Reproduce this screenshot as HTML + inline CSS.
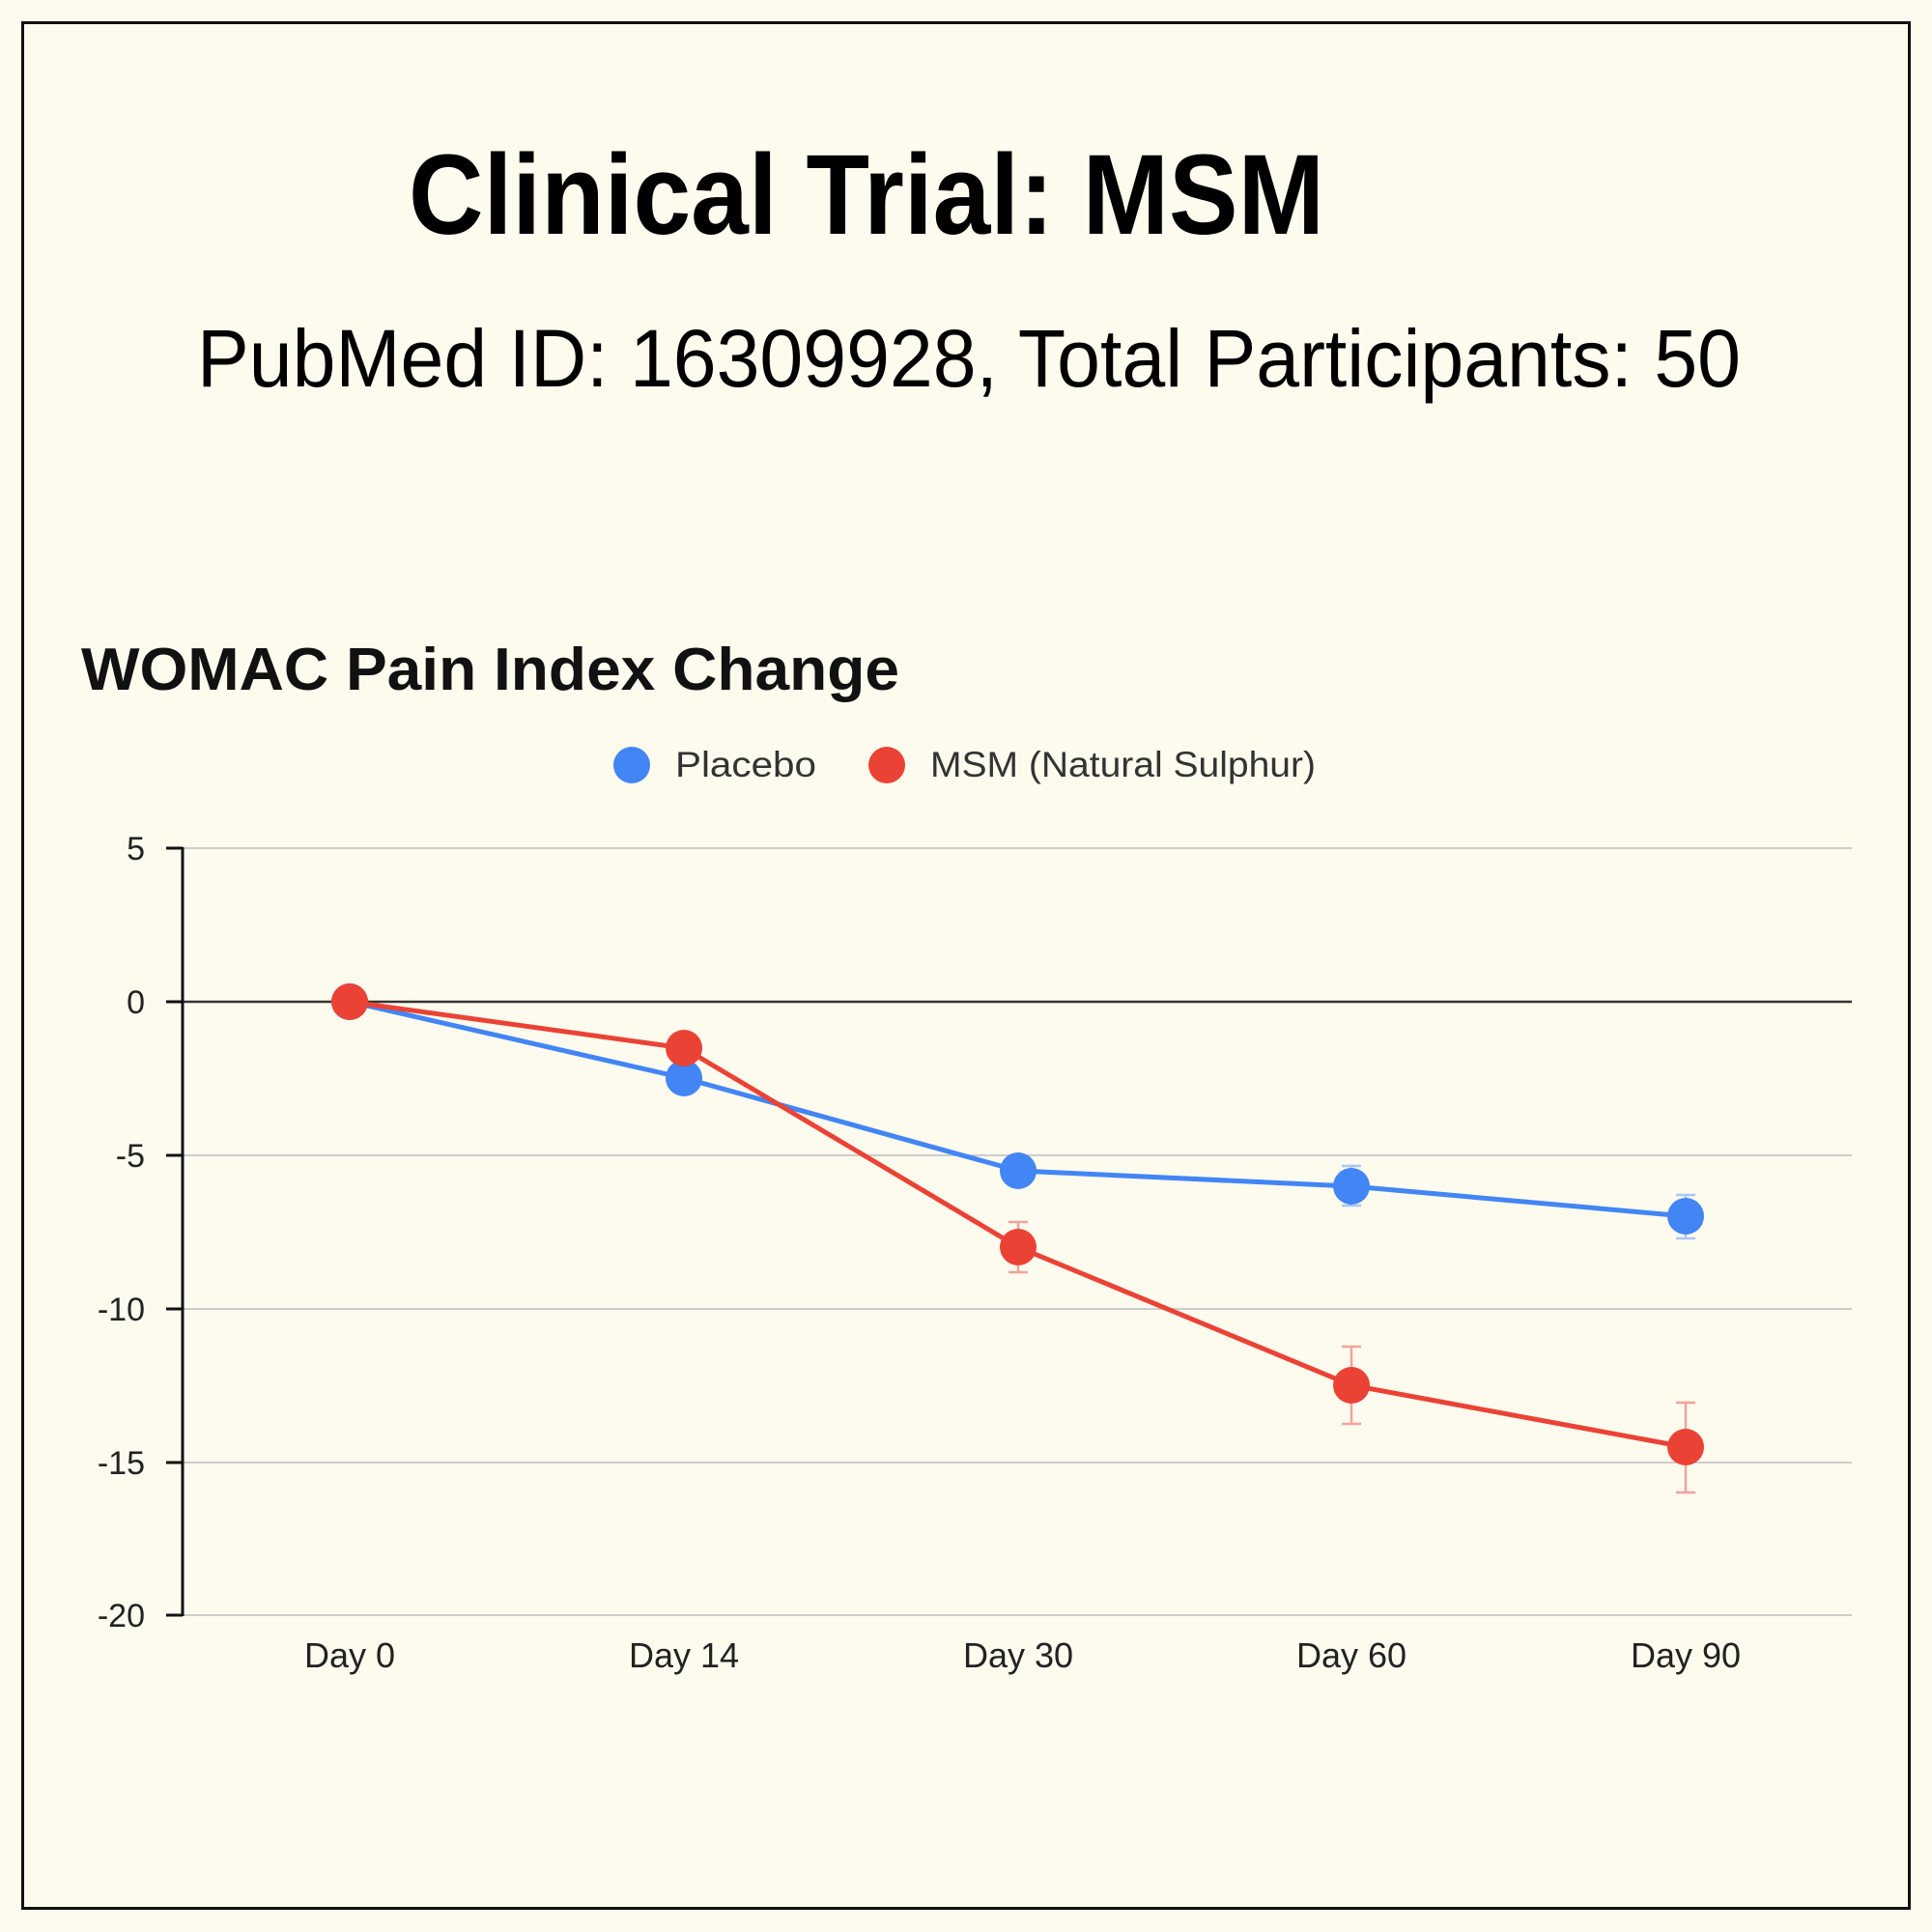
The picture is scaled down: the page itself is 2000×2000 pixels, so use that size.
<!DOCTYPE html>
<html><head><meta charset="utf-8"><style>html,body{margin:0;padding:0;background:#fdfaee}svg{display:block}</style></head>
<body>
<svg width="2000" height="2000" viewBox="0 0 2000 2000" xmlns="http://www.w3.org/2000/svg" font-family="Liberation Sans, sans-serif">
<rect x="0" y="0" width="2000" height="2000" fill="#fdfaee"/>
<rect x="23.5" y="23.5" width="1953" height="1952" fill="none" stroke="#111" stroke-width="3"/>
<text x="423" y="242" font-size="118" font-weight="bold" textLength="948" lengthAdjust="spacingAndGlyphs" fill="#000">Clinical Trial: MSM</text>
<text x="204" y="400" font-size="84" textLength="1598" lengthAdjust="spacingAndGlyphs" fill="#000">PubMed ID: 16309928, Total Participants: 50</text>
<text x="84" y="714" font-size="62" font-weight="bold" textLength="847" lengthAdjust="spacingAndGlyphs" fill="#111">WOMAC Pain Index Change</text>
<circle cx="654" cy="792" r="19" fill="#4285f4"/>
<text x="699" y="804" font-size="37" fill="#333" textLength="146" lengthAdjust="spacingAndGlyphs">Placebo</text>
<circle cx="918" cy="792" r="19" fill="#ea4335"/>
<text x="963" y="804" font-size="37" fill="#333" textLength="399" lengthAdjust="spacingAndGlyphs">MSM (Natural Sulphur)</text>
<g stroke="#ccc" stroke-width="2">
<line x1="189" y1="878" x2="1917" y2="878"/>
<line x1="189" y1="1196" x2="1917" y2="1196"/>
<line x1="189" y1="1355" x2="1917" y2="1355"/>
<line x1="189" y1="1514" x2="1917" y2="1514"/>
<line x1="189" y1="1672" x2="1917" y2="1672"/>
</g>
<line x1="189" y1="1037" x2="1917" y2="1037" stroke="#333" stroke-width="2.5"/>
<line x1="189" y1="877" x2="189" y2="1673" stroke="#111" stroke-width="3"/>
<g stroke="#111" stroke-width="3">
<line x1="172" y1="878" x2="189" y2="878"/><line x1="172" y1="1037" x2="189" y2="1037"/><line x1="172" y1="1196" x2="189" y2="1196"/><line x1="172" y1="1355" x2="189" y2="1355"/><line x1="172" y1="1514" x2="189" y2="1514"/><line x1="172" y1="1672" x2="189" y2="1672"/>
</g>
<g font-size="34" fill="#222" text-anchor="end">
<text x="150" y="890">5</text><text x="150" y="1049">0</text><text x="150" y="1208">-5</text><text x="150" y="1367">-10</text><text x="150" y="1526">-15</text><text x="150" y="1684">-20</text>
</g>
<g font-size="36" fill="#222" text-anchor="middle">
<text x="362" y="1726">Day 0</text><text x="708" y="1726">Day 14</text><text x="1054" y="1726">Day 30</text><text x="1399" y="1726">Day 60</text><text x="1745" y="1726">Day 90</text>
</g>
<!-- placebo: y = 1037 - v*31.76 -->
<g stroke="#a9c6f8" stroke-width="2.5">
<line x1="1054" y1="1202" x2="1054" y2="1221"/><line x1="1044" y1="1202" x2="1064" y2="1202"/><line x1="1044" y1="1221" x2="1064" y2="1221"/>
<line x1="1399" y1="1207" x2="1399" y2="1248"/><line x1="1389" y1="1207" x2="1409" y2="1207"/><line x1="1389" y1="1248" x2="1409" y2="1248"/>
<line x1="1745" y1="1237" x2="1745" y2="1282"/><line x1="1735" y1="1237" x2="1755" y2="1237"/><line x1="1735" y1="1282" x2="1755" y2="1282"/>
</g>
<polyline points="362,1037 708,1116 1054,1212 1399,1228 1745,1259" fill="none" stroke="#4285f4" stroke-width="5"/>
<g fill="#4285f4"><circle cx="362" cy="1037" r="19"/><circle cx="708" cy="1116" r="19"/><circle cx="1054" cy="1212" r="19"/><circle cx="1399" cy="1228" r="19"/><circle cx="1745" cy="1259" r="19"/></g>
<g stroke="#f0a49c" stroke-width="2.5">
<line x1="1054" y1="1265" x2="1054" y2="1317"/><line x1="1044" y1="1265" x2="1064" y2="1265"/><line x1="1044" y1="1317" x2="1064" y2="1317"/>
<line x1="1399" y1="1394" x2="1399" y2="1474"/><line x1="1389" y1="1394" x2="1409" y2="1394"/><line x1="1389" y1="1474" x2="1409" y2="1474"/>
<line x1="1745" y1="1452" x2="1745" y2="1545"/><line x1="1735" y1="1452" x2="1755" y2="1452"/><line x1="1735" y1="1545" x2="1755" y2="1545"/>
</g>
<polyline points="362,1037 708,1085 1054,1291 1399,1434 1745,1498" fill="none" stroke="#ea4335" stroke-width="5"/>
<g fill="#ea4335"><circle cx="362" cy="1037" r="19"/><circle cx="708" cy="1085" r="19"/><circle cx="1054" cy="1291" r="19"/><circle cx="1399" cy="1434" r="19"/><circle cx="1745" cy="1498" r="19"/></g>
</svg>
</body></html>
